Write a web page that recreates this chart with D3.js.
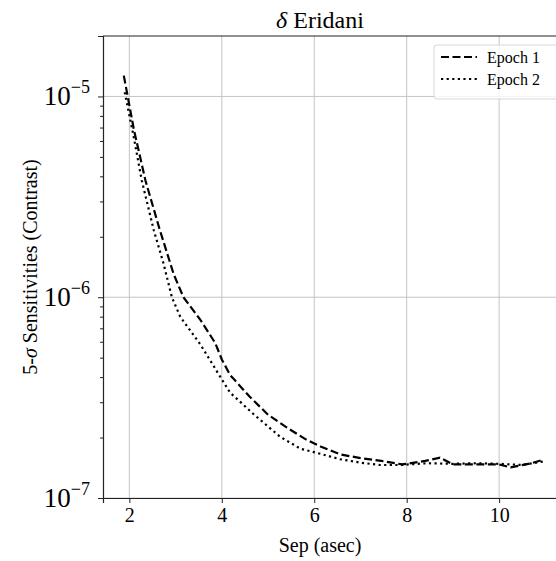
<!DOCTYPE html>
<html>
<head>
<meta charset="utf-8">
<script src="https://cdn.jsdelivr.net/npm/d3@7"></script>
<style>
  body { margin: 0; background: #fff; }
  text { font-family: "Liberation Serif", "Times New Roman", serif; fill: #000; }
</style>
</head>
<body>
<div id="chart-area"></div>
<script>
// Sensitivity curves
const sep1 = [1.88, 2.1, 2.35, 2.65, 2.96, 3.17, 3.54, 3.86, 4.0, 4.18, 4.6, 5.0, 5.4, 5.8, 6.15, 6.56, 7.0, 7.45, 7.9, 8.0, 8.4, 8.72, 9.0, 9.5, 10.0, 10.25, 10.7, 10.95]
const contrast1 = [1.27e-5, 6.8e-6, 3.8e-6, 2.2e-6, 1.3e-6, 1.0e-6, 7.7e-7, 5.9e-7, 4.9e-7, 4.1e-7, 3.2e-7, 2.6e-7, 2.25e-7, 1.97e-7, 1.8e-7, 1.65e-7, 1.58e-7, 1.53e-7, 1.47e-7, 1.48e-7, 1.53e-7, 1.59e-7, 1.47e-7, 1.47e-7, 1.47e-7, 1.42e-7, 1.49e-7, 1.55e-7]

const sep2 = [1.9, 2.1, 2.27, 2.53, 2.74, 2.92, 3.1, 3.54, 4.0, 4.18, 4.7, 5.26, 5.7, 6.13, 6.56, 7.0, 7.43, 7.86, 8.44, 9.0, 9.5, 10.0, 10.5, 10.95]
const contrast2 = [1.05e-5, 6.2e-6, 3.8e-6, 2.15e-6, 1.47e-6, 1.0e-6, 8.0e-7, 5.8e-7, 3.9e-7, 3.35e-7, 2.6e-7, 2.02e-7, 1.76e-7, 1.66e-7, 1.56e-7, 1.5e-7, 1.46e-7, 1.46e-7, 1.49e-7, 1.48e-7, 1.49e-7, 1.48e-7, 1.46e-7, 1.52e-7]

const xTicks = [2, 4, 6, 8, 10]
const yTicks = [1e-7, 1e-6, 1e-5]
const seriesNames = ['Epoch 1', 'Epoch 2']

const MARGIN = { LEFT: 103, RIGHT: -6, TOP: 36, BOTTOM: 63 }
const W = 556, H = 561
const WIDTH = W - MARGIN.LEFT - MARGIN.RIGHT
const HEIGHT = H - MARGIN.TOP - MARGIN.BOTTOM

const svg = d3.select('#chart-area').append('svg')
  .attr('width', W)
  .attr('height', H)

const g = svg.append('g')
  .attr('transform', `translate(${MARGIN.LEFT}, ${MARGIN.TOP})`)

const x = d3.scaleLinear()
  .domain([1.43, 11.36])
  .range([0, WIDTH])

const y = d3.scaleLog()
  .domain([1e-7, 2e-5])
  .range([HEIGHT, 0])

// grid
g.selectAll('.xgrid').data(xTicks).enter().append('line')
  .attr('x1', d => x(d)).attr('x2', d => x(d))
  .attr('y1', 0).attr('y2', HEIGHT)
  .attr('stroke', '#c4c4c4').attr('stroke-width', 1)

g.selectAll('.ygrid').data(yTicks).enter().append('line')
  .attr('x1', 0).attr('x2', WIDTH)
  .attr('y1', d => y(d)).attr('y2', d => y(d))
  .attr('stroke', '#c4c4c4').attr('stroke-width', 1)

// axes
const xAxisCall = d3.axisBottom(x)
  .tickValues(xTicks)
  .tickSize(5)
  .tickPadding(4)
  .tickFormat(d3.format('d'))
const xAxis = g.append('g')
  .attr('transform', `translate(0, ${HEIGHT})`)
  .call(xAxisCall)
xAxis.selectAll('text')
  .attr('font-size', '20px')
  .attr('font-family', '"Liberation Serif", serif')
  .attr('dy', '0.75em')

const minor = []
for (let e = -7; e <= -5; e++) {
  for (let m = 2; m <= 9; m++) {
    const v = m * Math.pow(10, e)
    if (v <= 2e-5) minor.push(v)
  }
}
const yMinorCall = d3.axisLeft(y).tickValues(minor).tickSize(3).tickFormat('')
g.append('g').attr('class', 'y-minor').call(yMinorCall)
  .call(s => s.select('.domain').remove())

const yAxisCall = d3.axisLeft(y)
  .tickValues(yTicks)
  .tickSize(5)
  .tickFormat('')
const yAxis = g.append('g').call(yAxisCall)

// power-of-ten labels
yTicks.forEach(v => {
  const t = g.append('text')
    .attr('x', -13)
    .attr('y', y(v) + 9)
    .attr('text-anchor', 'end')
    .attr('font-size', '27px')
  t.append('tspan').text('10')
  t.append('tspan')
    .attr('font-size', '18px')
    .attr('dy', '-12')
    .text('\u2212' + Math.round(-Math.log10(v)))
})

g.selectAll('.domain').attr('stroke', '#222').attr('stroke-width', 1.2)
g.selectAll('.tick line').attr('stroke', '#222')

// top spine
g.append('line')
  .attr('x1', 0).attr('x2', WIDTH)
  .attr('y1', 0).attr('y2', 0)
  .attr('stroke', '#222').attr('stroke-width', 1.2)

// curves
const line = d3.line()
  .x(d => x(d[0]))
  .y(d => y(d[1]))

const data1 = sep1.map((s, i) => [s, contrast1[i]])
const data2 = sep2.map((s, i) => [s, contrast2[i]])

g.append('path')
  .datum(data1)
  .attr('d', line)
  .attr('fill', 'none')
  .attr('stroke', '#000')
  .attr('stroke-width', 2.2)
  .attr('stroke-dasharray', '8,3.5')

g.append('path')
  .datum(data2)
  .attr('d', line)
  .attr('fill', 'none')
  .attr('stroke', '#000')
  .attr('stroke-width', 2.2)
  .attr('stroke-dasharray', '2.2,3.4')

// labels
svg.append('text')
  .attr('x', 320)
  .attr('y', 28)
  .attr('text-anchor', 'middle')
  .attr('font-size', '24px')
  .html('<tspan font-style="italic">\u03b4</tspan> Eridani')

svg.append('text')
  .attr('x', 320)
  .attr('y', 552)
  .attr('text-anchor', 'middle')
  .attr('font-size', '20px')
  .text('Sep (asec)')

svg.append('text')
  .attr('transform', 'rotate(-90)')
  .attr('x', -267)
  .attr('y', 37)
  .attr('text-anchor', 'middle')
  .attr('font-size', '20px')
  .html('5-<tspan font-style="italic">\u03c3</tspan> Sensitivities (Contrast)')

// legend
const legend = svg.append('g').attr('transform', 'translate(434, 45)')
legend.append('rect')
  .attr('width', 124).attr('height', 54)
  .attr('rx', 3)
  .attr('fill', 'rgba(255,255,255,0.8)')
  .attr('stroke', '#d6d6d6')
const dashes = ['8,3.5', '2.2,3.4']
seriesNames.forEach((name, i) => {
  const ly = 12 + i * 22
  legend.append('line')
    .attr('x1', 7).attr('x2', 43)
    .attr('y1', ly).attr('y2', ly)
    .attr('stroke', '#000').attr('stroke-width', 2.2)
    .attr('stroke-dasharray', dashes[i])
  legend.append('text')
    .attr('x', 53).attr('y', ly + 5.5)
    .attr('font-size', '16px')
    .text(name)
})
</script>
</body>
</html>
